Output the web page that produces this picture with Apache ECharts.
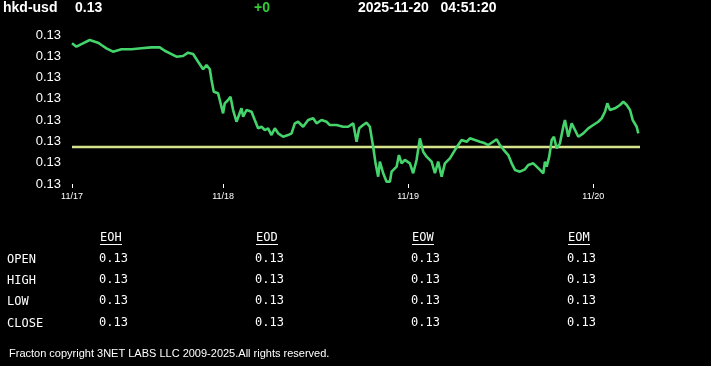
<!DOCTYPE html>
<html>
<head>
<meta charset="utf-8">
<script src="https://cdn.jsdelivr.net/npm/echarts@6/dist/echarts.min.js"></script>
<style>
html,body{margin:0;padding:0;background:#000;}
#c{width:711px;height:366px;}
</style>
</head>
<body>
<div id="c"></div>
<script>
// hours since 11/17 00:00
const times = [4.41,4.98,5.63,6.71,7.78,8.23,8.87,9.73,10.82,12.12,13.41,14.71,15.79,16.44,17.31,17.96,18.81,19.46,20.11,20.76,21.41,21.85,22.28,22.50,22.79,23.35,23.57,24.00,24.22,24.65,24.96,25.30,25.74,26.39,26.60,27.04,27.69,28.11,28.54,28.98,29.41,29.84,30.28,30.71,31.14,31.79,32.43,32.88,33.30,33.73,34.38,35.03,35.68,36.12,36.77,37.42,37.84,38.71,39.57,40.22,40.87,41.31,41.65,42.16,42.61,43.03,43.46,43.77,44.11,44.33,44.76,45.20,45.63,45.85,46.50,46.80,47.15,47.57,48.22,48.65,49.09,49.52,49.95,50.39,51.04,51.47,51.89,52.34,52.76,53.41,54.06,54.49,54.93,55.58,56.01,56.66,57.31,57.95,58.38,58.82,59.47,59.90,60.33,60.55,60.98,61.42,61.85,62.49,63.14,63.57,64.22,64.66,65.09,65.52,65.74,65.96,66.29,66.61,66.90,67.26,67.68,68.11,68.33,68.76,69.20,69.63,70.06,70.71,71.35,72.00,72.65,73.09,73.52,73.82,74.17,74.82,75.47,75.90,76.34,76.77,77.12,77.63,77.84];
const prices = [0.1286322,0.1286290,0.1286315,0.1286353,0.1286328,0.1286306,0.1286275,0.1286243,0.1286266,0.1286266,0.1286275,0.1286284,0.1286284,0.1286252,0.1286221,0.1286196,0.1286203,0.1286234,0.1286221,0.1286149,0.1286078,0.1286118,0.1286078,0.1285977,0.1285867,0.1285852,0.1285789,0.1285664,0.1285758,0.1285789,0.1285820,0.1285695,0.1285585,0.1285711,0.1285632,0.1285695,0.1285679,0.1285601,0.1285523,0.1285538,0.1285507,0.1285523,0.1285460,0.1285523,0.1285476,0.1285444,0.1285460,0.1285476,0.1285570,0.1285585,0.1285538,0.1285601,0.1285617,0.1285570,0.1285601,0.1285585,0.1285554,0.1285554,0.1285538,0.1285538,0.1285570,0.1285397,0.1285523,0.1285554,0.1285576,0.1285538,0.1285350,0.1285194,0.1285069,0.1285210,0.1285101,0.1285022,0.1285022,0.1285116,0.1285163,0.1285272,0.1285194,0.1285226,0.1285194,0.1285101,0.1285226,0.1285429,0.1285303,0.1285257,0.1285210,0.1285101,0.1285210,0.1285069,0.1285194,0.1285241,0.1285319,0.1285366,0.1285413,0.1285397,0.1285429,0.1285413,0.1285397,0.1285382,0.1285366,0.1285388,0.1285420,0.1285366,0.1285326,0.1285335,0.1285272,0.1285194,0.1285132,0.1285116,0.1285138,0.1285179,0.1285194,0.1285163,0.1285132,0.1285101,0.1285210,0.1285163,0.1285257,0.1285413,0.1285444,0.1285335,0.1285382,0.1285538,0.1285601,0.1285444,0.1285570,0.1285507,0.1285444,0.1285476,0.1285523,0.1285554,0.1285585,0.1285617,0.1285679,0.1285758,0.1285695,0.1285711,0.1285742,0.1285773,0.1285742,0.1285695,0.1285601,0.1285538,0.1285476];
const refLevel = 0.1285348;
const refTimes = [4.41, 78.08];
const xTickHours = [4.41, 24, 48, 72];
const yMin = 0.12850, yMax = 0.12864, yStep = 0.00002;

const symbol = 'hkd-usd';
const lastPrice = '0.13';
const change = '+0';
const stamp = '2025-11-20   04:51:20';
const colHeads = ['EOH', 'EOD', 'EOW', 'EOM'];
const rowHeads = ['OPEN', 'HIGH', 'LOW', 'CLOSE'];
const cellValues = [
  ['0.13','0.13','0.13','0.13'],
  ['0.13','0.13','0.13','0.13'],
  ['0.13','0.13','0.13','0.13'],
  ['0.13','0.13','0.13','0.13']
];
const footer = 'Fracton copyright 3NET LABS LLC 2009-2025.All rights reserved.';

const chart = echarts.init(document.getElementById('c'), null, {renderer: 'canvas'});
const seriesData = times.map((t, i) => [t, prices[i]]);
const refData = refTimes.map(t => [t, refLevel]);

const hdrFont = 'bold 14px "Liberation Sans", Arial, sans-serif';
const mono = '"DejaVu Sans Mono", "Liberation Mono", monospace';
const graphics = [
  {type:'text', left:3, top:1, style:{text:symbol, fill:'#fff', font:hdrFont}},
  {type:'text', left:75, top:1, style:{text:lastPrice, fill:'#fff', font:hdrFont}},
  {type:'text', left:254, top:1, style:{text:change, fill:'#33cc33', font:hdrFont}},
  {type:'text', left:358, top:1, style:{text:stamp, fill:'#fff', font:hdrFont, whiteSpace:'pre'}},
  {type:'text', left:9, top:348, style:{text:footer, fill:'#fff', font:'11px "Liberation Sans", Arial, sans-serif'}}
];
const colX = [99, 255, 411, 567];
const rowY = [259, 280, 301, 323];
colHeads.forEach((h, j) => {
  graphics.push({type:'text', x:colX[j]+1, y:238, style:{text:h, fill:'#fff', font:'12px ' + mono, textVerticalAlign:'middle'}});
  graphics.push({type:'line', shape:{x1:colX[j]+1, y1:244.5, x2:colX[j]+23, y2:244.5}, style:{stroke:'#fff', lineWidth:1}});
});
rowHeads.forEach((r, i) => {
  graphics.push({type:'text', x:7, y:rowY[i]+1, style:{text:r, fill:'#fff', font:'12px ' + mono, textVerticalAlign:'middle'}});
  colX.forEach((cx, j) => {
    graphics.push({type:'text', x:cx, y:rowY[i], style:{text:cellValues[i][j], fill:'#fff', font:'12px ' + mono, textVerticalAlign:'middle'}});
  });
});

chart.setOption({
  backgroundColor:'#000',
  animation:false,
  grid:{left:72, right:72.7, top:35, bottom:182, containLabel:false},
  xAxis:{
    type:'value', min:times[0], max:times[times.length-1],
    axisLine:{show:false},
    splitLine:{show:false},
    axisTick:{show:true, length:4, lineStyle:{color:'#fff', width:1}, customValues:xTickHours},
    axisLabel:{color:'#fff', fontSize:9, margin:8, fontFamily:'"Liberation Sans", Arial, sans-serif',
      customValues:xTickHours,
      formatter:v => '11/' + (17 + Math.floor(v/24 + 1e-6))}
  },
  yAxis:{
    type:'value', min:yMin, max:yMax, interval:yStep,
    axisLine:{show:false}, axisTick:{show:false}, splitLine:{show:false},
    axisLabel:{color:'#fff', fontSize:13, margin:11, fontFamily:'"Liberation Sans", Arial, sans-serif',
      formatter:v => v.toFixed(2)}
  },
  series:[
    {
      type:'line', data:refData, showSymbol:false, symbol:'none', silent:true, clip:false,
      lineStyle:{color:'#d6e28a', width:2.5}, z:1
    },
    {
      type:'line', data:seriesData, showSymbol:false, symbol:'none',
      lineStyle:{color:'#45d46c', width:2.6}, z:2
    }
  ],
  graphic:graphics
});
</script>
</body>
</html>
